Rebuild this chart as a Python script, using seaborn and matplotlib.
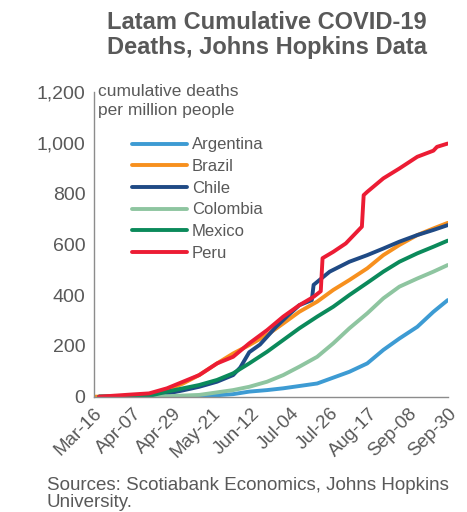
import numpy as np
import pandas as pd
import matplotlib.pyplot as plt
import matplotlib.dates as mdates
import matplotlib.ticker as mticker
import seaborn as sns

sns.set_style("white")
plt.rcParams["font.family"] = ["Liberation Sans", "DejaVu Sans"]

# days since Mar-16 and cumulative deaths per million
countries = ["Argentina", "Brazil", "Chile", "Colombia", "Mexico", "Peru"]
colors = ["#3d9bd3", "#f7901e", "#1f4a85", "#8ec5a0", "#0b8a5b", "#ec1c34"]

arg_days = [3, 59, 78, 87, 97, 106, 115, 125, 134, 143, 153, 162, 171, 181, 190, 198]
arg_vals = [0, 1, 10, 20, 26, 33, 42, 52, 75, 98, 131, 184, 229, 275, 334, 380]

bra_days = [0, 22, 31, 41, 50, 59, 69, 78, 87, 97, 106, 115, 125, 134, 143, 153, 162, 171, 181, 190, 198]
bra_vals = [0, 2, 7, 26, 52, 85, 131, 170, 203, 243, 288, 334, 374, 420, 459, 505, 557, 597, 636, 662, 684]

chl_days = [3, 31, 41, 50, 59, 69, 78, 82, 87, 93, 97, 102, 108, 115, 122, 123, 132, 143, 153, 162, 171, 181, 190, 198]
chl_vals = [0, 3, 12, 25, 39, 59, 85, 115, 175, 205, 236, 275, 315, 360, 380, 440, 492, 531, 557, 583, 610, 636, 656, 675]

col_days = [3, 41, 59, 78, 87, 97, 106, 115, 125, 134, 143, 153, 162, 171, 181, 190, 198]
col_vals = [0, 2, 7, 26, 39, 59, 85, 118, 157, 210, 269, 328, 387, 433, 465, 492, 518]

mex_days = [3, 31, 41, 50, 59, 69, 78, 87, 97, 106, 115, 125, 134, 143, 153, 162, 171, 181, 190, 198]
mex_vals = [0, 3, 20, 33, 46, 66, 92, 131, 177, 223, 269, 315, 354, 400, 448, 492, 531, 564, 590, 614]

per_days = [3, 22, 31, 41, 50, 59, 69, 78, 87, 97, 106, 115, 123, 127, 128, 134, 141, 150, 151, 153, 162, 171, 181, 190, 192, 198]
per_vals = [0, 9, 13, 33, 59, 85, 131, 157, 210, 262, 315, 360, 393, 415, 545, 570, 603, 669, 793, 806, 859, 898, 944, 968, 983, 996]

all_days = [arg_days, bra_days, chl_days, col_days, mex_days, per_days]
all_vals = [arg_vals, bra_vals, chl_vals, col_vals, mex_vals, per_vals]

start = pd.Timestamp("2020-03-16")
frames = []
for name, d, v in zip(countries, all_days, all_vals):
    frames.append(pd.DataFrame({"date": start + pd.to_timedelta(d, unit="D"),
                                "deaths": v, "country": name}))
df = pd.concat(frames, ignore_index=True)

grey = "#595959"
fig = plt.figure(figsize=(4.67, 5.12), dpi=100)
ax = fig.add_axes([0.2006, 0.2252, 0.7581, 0.5957])
sns.lineplot(data=df, x="date", y="deaths", hue="country", hue_order=countries,
             palette=colors, linewidth=2.8, ax=ax, estimator=None)

ax.set_ylim(0, 1200)
ax.set_yticks(np.arange(0, 1201, 200))
ax.yaxis.set_major_formatter(mticker.StrMethodFormatter("{x:,.0f}"))
ticks = pd.date_range("2020-03-16", periods=10, freq="22D")
ax.set_xlim(ticks[0], ticks[-1])
ax.set_xticks(ticks)
ax.xaxis.set_major_formatter(mdates.DateFormatter("%b-%d"))
ax.set_xlabel("")
ax.set_ylabel("")
ax.tick_params(axis="y", direction="in", length=4, color="#8c8c8c", labelsize=14, labelcolor=grey, pad=6)
ax.tick_params(axis="x", direction="out", length=4, color="#8c8c8c", labelsize=13.5, labelcolor=grey, pad=2)
plt.setp(ax.get_xticklabels(), rotation=45, ha="right", rotation_mode="anchor")
for s in ["top", "right"]:
    ax.spines[s].set_visible(False)
for s in ["left", "bottom"]:
    ax.spines[s].set_color("#8c8c8c")
    ax.spines[s].set_linewidth(1.0)

ax.legend(loc="upper left", bbox_to_anchor=(0.108, 0.85), frameon=False, fontsize=12,
          handlelength=3.3, handletextpad=0.3, labelspacing=0.4, borderpad=0, borderaxespad=0,
          labelcolor=grey)
ax.text(0.011, 1.025, "cumulative deaths\nper million people", transform=ax.transAxes,
        fontsize=12.5, color=grey, va="top", ha="left", linespacing=1.35)

fig.text(0.572, 0.978, "Latam Cumulative COVID-19\nDeaths, Johns Hopkins Data", ha="center", va="top",
         fontsize=17, fontweight="bold", color=grey, linespacing=1.1)
fig.text(0.1, 0.068, "Sources: Scotiabank Economics, Johns Hopkins\nUniversity.", ha="left", va="top",
         fontsize=13.5, color=grey, linespacing=1.0)

plt.savefig("out.png", dpi=100)
